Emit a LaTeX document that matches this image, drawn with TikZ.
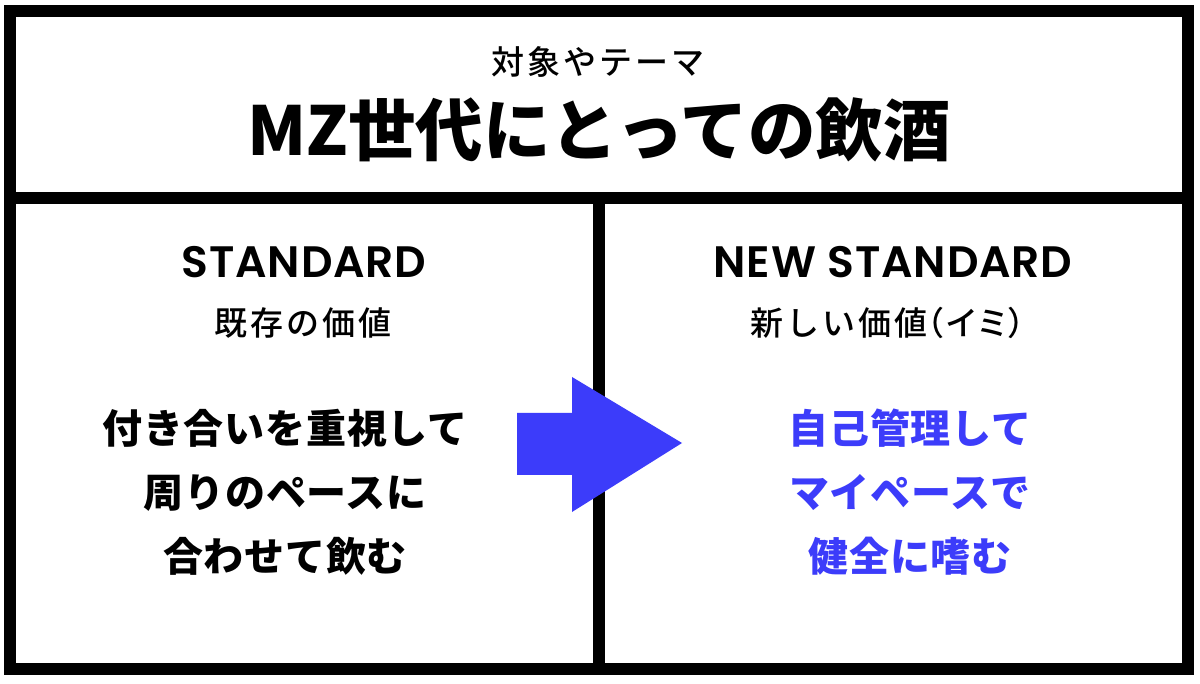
\documentclass[tikz,border=0pt]{standalone}
\usepackage{fontspec}
\newfontfamily\jp{Noto Sans CJK JP}
\newfontfamily\jpm{Noto Sans CJK JP Medium}
\newfontfamily\lat{Poppins SemiBold}[LetterSpace=2]
\definecolor{accent}{HTML}{3C3CFA}
\begin{document}
\begin{tikzpicture}[x=1pt,y=-1pt,
  frame/.style={line width=12pt,draw=black},
  small/.style={font=\jpm\addfontfeatures{LetterSpace=9}\fontsize{33}{33}\selectfont,inner sep=0pt},
  head/.style={font=\lat\fontsize{44}{44}\selectfont,inner sep=0pt},
  body/.style={font=\jp\bfseries\addfontfeatures{LetterSpace=2}\fontsize{40}{64}\selectfont,align=center,inner sep=0pt}]
\useasboundingbox (0,0) rectangle (1200,684);
\fill[white] (0,0) rectangle (1200,684);
% frame
\draw[frame] (10,11) rectangle (1188,669);
\draw[frame] (10,198) -- (1188,198);
\draw[frame] (598.5,198) -- (598.5,669);
% title
\node[small] (theme) at (598,62) {対象やテーマ};
\node[inner sep=0pt,font=\jp\bfseries\fontsize{67.5}{67.5}\selectfont] (title) at (599,130) {MZ世代にとっての飲酒};
% left column
\node[head] (std) at (304,262) {STANDARD};
\node[small] (stdsub) at (303,323) {既存の価値};
\node[body] (left) at (285,492) {付き合いを重視して\\周りのペースに\\合わせて飲む};
% right column
\node[head] (nstd) at (893,262) {NEW STANDARD};
\node[small,anchor=west] (nstdsub) at (750,323) {新しい価値{\addfontfeature{CharacterWidth=AlternateProportional}（イミ）}};
\node[body,text=accent] (right) at (910,492) {自己管理して\\マイペースで\\健全に嗜む};
% arrow
\fill[accent] (517,413) -- (572,413) -- (572,377) -- (682,443) -- (572,512) -- (572,475) -- (517,475) -- cycle;
\end{tikzpicture}
\end{document}
